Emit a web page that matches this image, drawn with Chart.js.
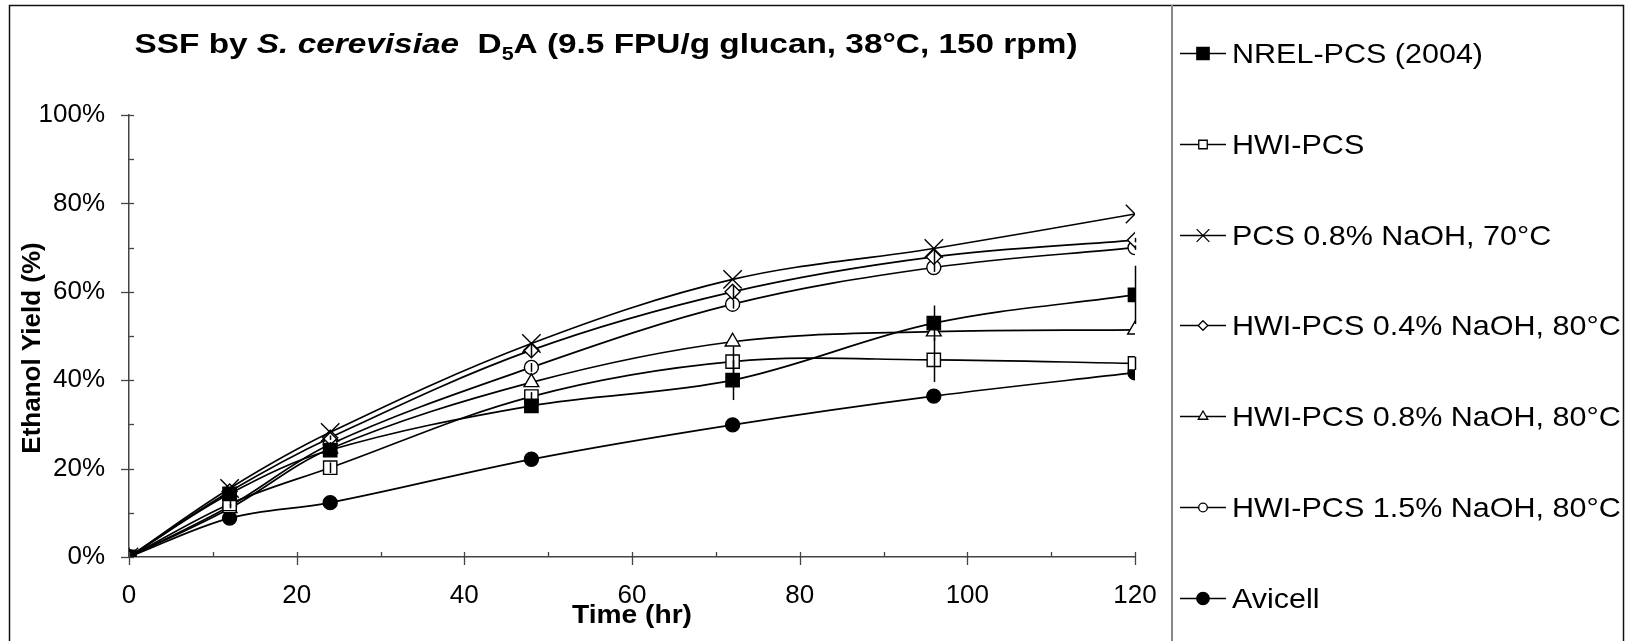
<!DOCTYPE html>
<html><head><meta charset="utf-8">
<script src="https://cdn.jsdelivr.net/npm/chart.js@4.4.0/dist/chart.umd.min.js"></script>
<style>html,body{margin:0;padding:0;background:#fff;overflow:hidden}</style>
</head><body>
<canvas id="c" width="1633" height="641"></canvas>
<script>
// ---- data ----
const timeHr = [0, 12, 24, 48, 72, 96, 120];
const seriesNames = ['NREL-PCS (2004)', 'HWI-PCS', 'PCS 0.8% NaOH, 70°C', 'HWI-PCS 0.4% NaOH, 80°C', 'HWI-PCS 0.8% NaOH, 80°C', 'HWI-PCS 1.5% NaOH, 80°C', 'Avicell'];
const nrelPcs     = [0, 14.3, 24.2, 34.2, 40.0, 52.9, 59.3];
const hwiPcs      = [0, 12.0, 20.2, 36.3, 44.2, 44.6, 43.8];
const pcs08Naoh70 = [0, 15.5, 28.2, 48.3, 62.8, 69.8, 77.6];
const hwi04Naoh80 = [0, 14.8, 27.0, 46.8, 60.0, 67.9, 71.7];
const hwi08Naoh80 = [0, 11.0, 24.5, 39.5, 48.7, 51.0, 51.4];
const hwi15Naoh80 = [0, 11.5, 25.5, 42.9, 57.2, 65.5, 70.0];
const avicell     = [0, 8.8, 12.3, 22.1, 29.9, 36.4, 41.7];
// error bars (+/-)
const nrelPcsErr     = [0, 0, 0, 0, 4.5, 4.0, 6.6];
const hwiPcsErr      = [0, 0.8, 1.2, 1.0, 3.4, 5.0, 1.5];
const hwi04Naoh80Err = [0, 0.5, 0.5, 1.5, 1.5, 1.5, 0.5];
const hwi15Naoh80Err = [0, 0.5, 0.5, 1.0, 1.0, 1.0, 0.5];
const xTickValues = [0, 20, 40, 60, 80, 100, 120];
const yTickValues = [0, 20, 40, 60, 80, 100];

const FONT = '"Liberation Sans", Arial, sans-serif';
const seriesValues = [nrelPcs, hwiPcs, pcs08Naoh70, hwi04Naoh80, hwi08Naoh80, hwi15Naoh80, avicell];
const seriesErrors = [nrelPcsErr, hwiPcsErr, null, hwi04Naoh80Err, null, hwi15Naoh80Err, null];
const styles = [
  {ps:'rect', r:9.4, fill:'#000', lr:8.7},
  {ps:'rect', r:9.4, fill:'#fff', lr:6.0},
  {ps:'crossRot', r:13, fill:'#fff', lr:9.0},
  {ps:'rectRot', r:7.5, fill:'#fff', lr:4.8},
  {ps:'triangle', r:8.5, fill:'#fff', lr:5.5},
  {ps:'circle', r:7, fill:'#fff', lr:4.3},
  {ps:'circle', r:7, fill:'#000', lr:6.2}
];

const datasets = seriesNames.map((name, i) => ({
  label: name,
  data: timeHr.map((t, k) => ({x: t, y: seriesValues[i][k]})),
  borderColor: '#000',
  borderWidth: 1.7,
  tension: 0.35,
  pointStyle: styles[i].ps,
  pointRadius: styles[i].r,
  pointBackgroundColor: styles[i].fill,
  pointBorderColor: '#000',
  pointBorderWidth: 1.4,
  fill: false
}));

function drawMarker(ctx, style, x, y, r, fill) {
  ctx.save();
  ctx.beginPath();
  ctx.lineWidth = 1.3;
  ctx.strokeStyle = '#000';
  ctx.fillStyle = fill;
  if (style === 'rect') {
    const s = Math.SQRT1_2 * r;
    ctx.rect(x - s, y - s, 2 * s, 2 * s);
  } else if (style === 'circle') {
    ctx.arc(x, y, r, 0, Math.PI * 2);
  } else if (style === 'rectRot') {
    ctx.moveTo(x, y - r); ctx.lineTo(x + r, y); ctx.lineTo(x, y + r); ctx.lineTo(x - r, y); ctx.closePath();
  } else if (style === 'triangle') {
    for (let k = 0; k < 3; k++) {
      const a = k * 2 * Math.PI / 3;
      const px = x + Math.sin(a) * r, py = y - Math.cos(a) * r;
      if (k === 0) ctx.moveTo(px, py); else ctx.lineTo(px, py);
    }
    ctx.closePath();
  } else if (style === 'crossRot') {
    const s = Math.SQRT1_2 * r;
    ctx.moveTo(x - s, y - s); ctx.lineTo(x + s, y + s);
    ctx.moveTo(x + s, y - s); ctx.lineTo(x - s, y + s);
    ctx.stroke(); ctx.restore(); return;
  }
  ctx.fill(); ctx.stroke();
  ctx.restore();
}

// draw text horizontally stretched (the reference text is slightly widened)
function stretchedText(ctx, text, x, y, sx, align) {
  ctx.save();
  ctx.translate(x, y);
  ctx.scale(sx, 1);
  ctx.textAlign = align;
  ctx.fillText(text, 0, 0);
  ctx.restore();
}

const decor = {
  id: 'decor',
  afterDatasetsDraw(chart) {
    const ctx = chart.ctx, xs = chart.scales.x, ys = chart.scales.y;
    ctx.save();
    ctx.strokeStyle = '#000'; ctx.lineWidth = 1.5;
    seriesErrors.forEach((err, i) => {
      if (!err) return;
      timeHr.forEach((t, k) => {
        if (!err[k]) return;
        const px = Math.round(xs.getPixelForValue(t)) + 0.5;
        ctx.beginPath();
        ctx.moveTo(px, ys.getPixelForValue(seriesValues[i][k] + err[k]));
        ctx.lineTo(px, ys.getPixelForValue(seriesValues[i][k] - err[k]));
        ctx.stroke();
      });
    });
    ctx.restore();
  },
  afterDraw(chart) {
    const ctx = chart.ctx, xs = chart.scales.x, ys = chart.scales.y;
    const a = chart.chartArea;
    ctx.save();
    // tick marks
    ctx.strokeStyle = '#444'; ctx.lineWidth = 1.3;
    for (let v = 0; v <= 120; v += 10) {
      const px = Math.round(xs.getPixelForValue(v)) + 0.5;
      const major = v % 20 === 0;
      ctx.beginPath();
      ctx.moveTo(px, a.bottom - 5);
      ctx.lineTo(px, major ? a.bottom + 8 : a.bottom);
      ctx.stroke();
    }
    for (let v = 0; v <= 100; v += 10) {
      const py = Math.round(ys.getPixelForValue(v)) + 0.5;
      const major = v % 20 === 0;
      ctx.beginPath();
      ctx.moveTo(major ? a.left - 8 : a.left, py);
      ctx.lineTo(a.left + 5, py);
      ctx.stroke();
    }
    // frame
    ctx.strokeStyle = '#111'; ctx.lineWidth = 1.5;
    ctx.beginPath();
    ctx.moveTo(9.5, 645); ctx.lineTo(9.5, 5.5); ctx.lineTo(1623.5, 5.5); ctx.lineTo(1623.5, 645);
    ctx.stroke();
    ctx.strokeStyle = '#888'; ctx.lineWidth = 2;
    ctx.beginPath(); ctx.moveTo(1172, 5); ctx.lineTo(1172, 645); ctx.stroke();

    // title (bold, italic species name, subscript 5), widened to the reference width
    ctx.fillStyle = '#000';
    ctx.textBaseline = 'alphabetic';
    const parts = [
      {t:'SSF by ', f:'bold 28px ' + FONT, dy:0},
      {t:'S. cerevisiae', f:'italic bold 28px ' + FONT, dy:0},
      {t:'  D', f:'bold 28px ' + FONT, dy:0},
      {t:'5', f:'bold 18px ' + FONT, dy:7},
      {t:'A (9.5 FPU/g glucan, 38°C, 150 rpm)', f:'bold 28px ' + FONT, dy:0}
    ];
    let total = 0;
    parts.forEach(p => { ctx.font = p.f; p.w = ctx.measureText(p.t).width; total += p.w; });
    const tsx = 943 / total;
    ctx.save();
    ctx.translate(606 - 943 / 2, 53);
    ctx.scale(tsx, 1);
    ctx.textAlign = 'left';
    let tx = 0;
    parts.forEach(p => { ctx.font = p.f; ctx.fillText(p.t, tx, p.dy); tx += p.w; });
    ctx.restore();

    // axis titles
    ctx.font = 'bold 25px ' + FONT;
    const tw = ctx.measureText('Time (hr)').width;
    stretchedText(ctx, 'Time (hr)', (a.left + a.right) / 2, 623, 120 / tw, 'center');
    ctx.font = 'bold 26px ' + FONT;
    ctx.save();
    ctx.translate(40, 348);
    ctx.rotate(-Math.PI / 2);
    ctx.textAlign = 'center';
    ctx.fillText('Ethanol Yield (%)', 0, 0);
    ctx.restore();

    // legend
    const rowY = [53, 144, 235, 325, 416, 507, 598];
    ctx.font = '28px ' + FONT;
    seriesNames.forEach((name, i) => {
      const y = rowY[i];
      ctx.strokeStyle = '#000'; ctx.lineWidth = 1.5;
      ctx.beginPath(); ctx.moveTo(1180, y + 0.5); ctx.lineTo(1226, y + 0.5); ctx.stroke();
      drawMarker(ctx, styles[i].ps, 1203, y + 0.5, styles[i].lr, styles[i].fill);
      ctx.fillStyle = '#000';
      stretchedText(ctx, name, 1232, y + 10, 1.09, 'left');
    });
    ctx.restore();
  }
};

new Chart(document.getElementById('c'), {
  type: 'line',
  data: { datasets },
  options: {
    responsive: false,
    animation: false,
    layout: { padding: { left: 0, right: 498, top: 115, bottom: 0 } },
    plugins: { legend: { display: false }, tooltip: { enabled: false }, title: { display: false } },
    scales: {
      x: {
        type: 'linear', min: 0, max: 120,
        afterFit: s => { s.height = 84; },
        afterBuildTicks: s => { s.ticks = xTickValues.map(v => ({value: v})); },
        grid: { display: false, drawTicks: false },
        border: { display: true, color: '#444', width: 1.5 },
        ticks: { color: '#000', font: { family: FONT, size: 26 }, padding: 23, maxRotation: 0, autoSkip: false }
      },
      y: {
        type: 'linear', min: 0, max: 100,
        afterFit: s => { s.width = 129; },
        afterBuildTicks: s => { s.ticks = yTickValues.map(v => ({value: v})); },
        grid: { display: false, drawTicks: false },
        border: { display: true, color: '#444', width: 1.5 },
        ticks: { color: '#000', font: { family: FONT, size: 26 }, padding: 24, callback: v => v + '%' }
      }
    }
  },
  plugins: [decor]
});
</script>
</body></html>
